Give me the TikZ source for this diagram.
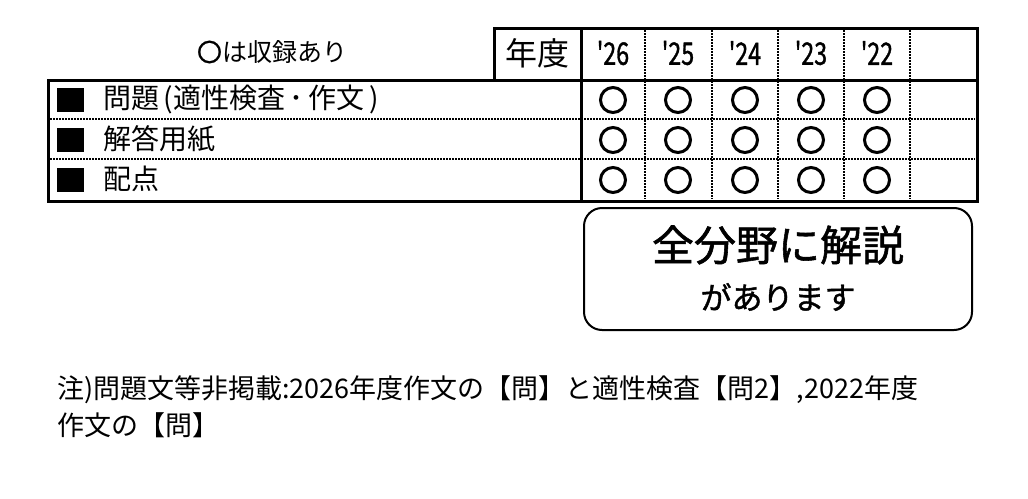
\documentclass[tikz,border=0pt]{standalone}
\usepackage{fontspec}
\setmainfont{Noto Sans CJK JP}
\newfontfamily\medfont[FakeBold=1.3]{Noto Sans CJK JP}
\begin{document}
\begin{tikzpicture}[x=1pt,y=-1pt,
  thick line/.style={line width=3pt},
  dotline/.style={line width=2pt,dash pattern=on 1.5pt off 1.5pt},
  mark circ/.style={circle,draw,line width=3pt,minimum size=25pt,inner sep=0pt},
  lab/.style={anchor=west,font=\fontsize{28}{28}\selectfont,inner sep=0pt},
  yr/.style={font=\medfont\fontsize{31}{31}\selectfont,xscale=0.75,inner sep=0pt}]
\useasboundingbox (0,0) rectangle (1028,498);
% header
\node[font=\fontsize{25}{25}\selectfont] (leg) at (272,52) {{\medfont 〇}は収録あり};
\draw[thick line] (494,80) -- (494,28) -- (977,28) -- (977,201) -- (48,201) -- (48,80) -- (977,80);
\draw[thick line] (581,28) -- (581,201);
\node[font=\fontsize{32}{32}\selectfont] (nd) at (537,53) {年度};
\foreach \x in {645,712,778,844,910}{
  \draw[dotline] (\x,30) -- (\x,199);}
\foreach \y in {119,159}{
  \draw[dotline] (50,\y) -- (975,\y);}
\foreach \x/\t in {613/'26,678/'25,745/'24,811/'23,877/'22}{
  \node[yr] (y\t) at (\x,53) {\t};}
\foreach \x in {613,678,745,811,877}{
  \foreach \y in {100,140,180}{
    \node[mark circ] (c\x\y) at (\x,\y) {};}}
% row labels
\foreach \y/\t [count=\i] in {100/問題\,(適性検査\,･\,作文\,),140/解答用紙,180/配点}{
  \fill (57,\y-12) rectangle (84,\y+12);
  \node[lab] (r\i) at (103,\y-1) {\t};}
% rounded box
\draw[line width=2pt,rounded corners=18pt] (584,208) rectangle (972,330);
\node[font=\medfont\fontsize{42}{42}\selectfont] (b1) at (778,245) {全分野に解説};
\node[font=\medfont\fontsize{31}{31}\selectfont] (b2) at (778,297) {があります};
% note
\node[lab,font=\fontsize{27}{27}\selectfont] (n1) at (57,390) {注)問題文等非掲載:2026年度作文の【問】と適性検査【問2】,2022年度};
\node[lab,font=\fontsize{27}{27}\selectfont] (n2) at (57,425) {作文の【問】};
\end{tikzpicture}
\end{document}
